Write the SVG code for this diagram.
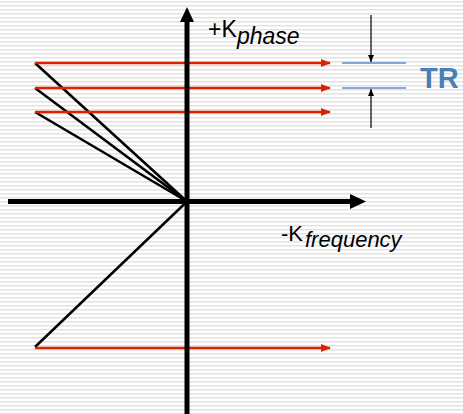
<svg xmlns="http://www.w3.org/2000/svg" width="463" height="414" viewBox="0 0 463 414">
<defs>
<pattern id="stripes" x="0" y="0" width="8" height="4" patternUnits="userSpaceOnUse">
<rect x="0" y="0" width="8" height="4" fill="#ffffff"/>
<rect x="0" y="1" width="8" height="1.5" fill="#e2e2e2"/>
</pattern>
<marker id="redHead" markerWidth="10" markerHeight="8" refX="9" refY="4" orient="auto" markerUnits="userSpaceOnUse">
<path d="M0,0 L10,4 L0,8 Z" fill="#dd2200"/>
</marker>
<marker id="smallHead" markerWidth="7" markerHeight="6" refX="7" refY="3" orient="auto" markerUnits="userSpaceOnUse">
<path d="M0,0 L7,3 L0,6 Z" fill="#000"/>
</marker>
</defs>
<style>
.axis{stroke:#000;stroke-width:5;fill:none}
.red{stroke:#dd2200;stroke-width:2.5;fill:none;marker-end:url(#redHead)}
.blk{stroke:#000;stroke-width:2.5;fill:none}
.blue{stroke:#5b8ec4;stroke-width:1.6}
.thin{stroke:#000;stroke-width:1.2;fill:none}
.lbl{font-family:"Liberation Sans",Arial,sans-serif;fill:#000}
.sub{font-style:italic}
.tr{font-family:"Liberation Sans",Arial,sans-serif;font-weight:bold;font-size:29px;fill:#4a7fb5}
</style>
<rect width="463" height="414" fill="url(#stripes)"/>
<g id="connectors">
<line class="blk" x1="35" y1="63" x2="187" y2="201.5"/>
<line class="blk" x1="35" y1="88" x2="187" y2="201.5"/>
<line class="blk" x1="35" y1="112" x2="187" y2="201.5"/>
<line class="blk" x1="35" y1="347" x2="187" y2="201.5"/>
<line class="red" x1="35" y1="63" x2="330" y2="63"/>
<line class="red" x1="35" y1="88" x2="330" y2="88"/>
<line class="red" x1="35" y1="112" x2="330" y2="112"/>
<line class="red" x1="35" y1="348" x2="330" y2="348"/>
</g>
<g id="axes">
<line class="axis" x1="187" y1="20" x2="187" y2="414"/>
<path d="M180,22 L187,7 L194,22 Z" fill="#000"/>
<line class="axis" x1="8" y1="201.5" x2="352" y2="201.5"/>
<path d="M350,194 L366,201.5 L350,209 Z" fill="#000"/>
</g>
<g id="label-phase">
<text class="lbl" x="208" y="37" style="font-size:23px">+K<tspan class="sub" x="237" y="44">phase</tspan></text>
</g>
<g id="label-frequency">
<text class="lbl" x="281" y="241" style="font-size:22px">-K<tspan class="sub" x="305" y="247">frequency</tspan></text>
</g>
<g id="tr-marker">
<line class="blue" x1="342" y1="63" x2="406" y2="63"/>
<line class="blue" x1="342" y1="88" x2="406" y2="88"/>
<line class="thin" x1="371" y1="15" x2="371" y2="62" marker-end="url(#smallHead)"/>
<line class="thin" x1="371" y1="128" x2="371" y2="89" marker-end="url(#smallHead)"/>
<text class="tr" x="420" y="88">TR</text>
</g>
</svg>
